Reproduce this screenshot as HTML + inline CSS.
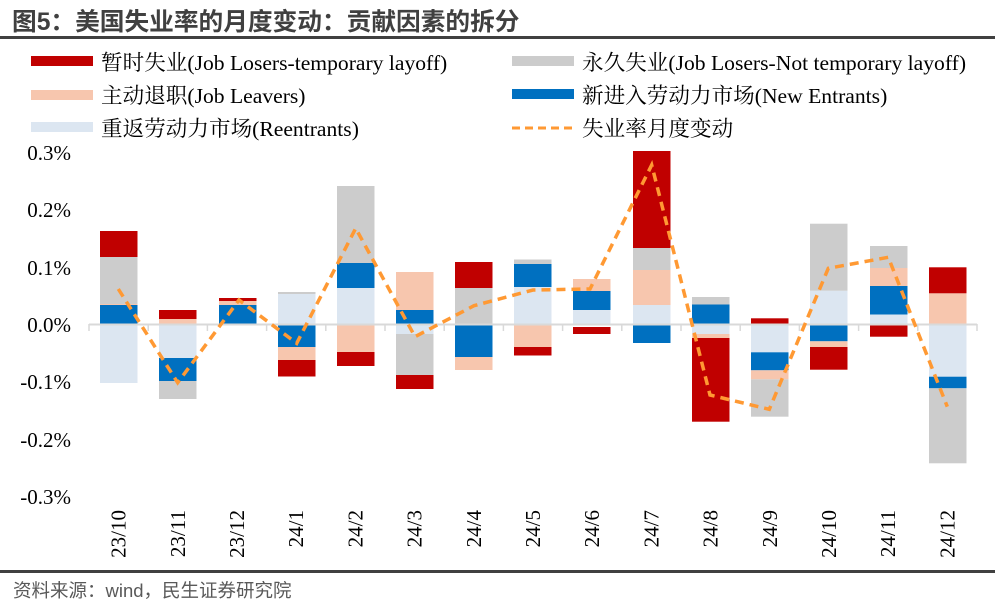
<!DOCTYPE html>
<html><head><meta charset="utf-8">
<style>
html,body{margin:0;padding:0;background:#fff;}
svg{display:block;}
.s{font-family:"Liberation Serif","Noto Serif CJK SC","Noto Sans CJK SC",serif;font-size:21px;fill:#000;}
.lg{font-size:21.6px;}
</style></head>
<body>
<svg id="c" width="995" height="613" xmlns="http://www.w3.org/2000/svg">
<rect width="995" height="613" fill="#fff"/>
<text x="12" y="30" font-family="Liberation Sans,'Noto Sans CJK SC',sans-serif" font-weight="bold" font-size="24.7" fill="#404040">图5：美国失业率的月度变动：贡献因素的拆分</text>
<rect x="0" y="36" width="995" height="3" fill="#404040"/>
<rect x="0" y="570" width="995" height="3" fill="#404040"/>
<text x="13" y="597" font-family="Liberation Sans,'Noto Sans CJK SC',sans-serif" font-size="18.5" fill="#595959">资料来源：wind，民生证券研究院</text>
<!-- legend -->
<rect x="31" y="56" width="62" height="10" fill="#C00000"/>
<text class="s lg" x="101" y="70">暂时失业(Job Losers-temporary layoff)</text>
<rect x="31" y="90" width="62" height="10" fill="#F7C6AE"/>
<text class="s lg" x="101" y="103">主动退职(Job Leavers)</text>
<rect x="31" y="122" width="62" height="10" fill="#DCE6F1"/>
<text class="s lg" x="101" y="136">重返劳动力市场(Reentrants)</text>
<rect x="512" y="56" width="62" height="10" fill="#CCCCCC"/>
<text class="s lg" x="582" y="70">永久失业(Job Losers-Not temporary layoff)</text>
<rect x="512" y="89" width="62" height="10" fill="#0070C0"/>
<text class="s lg" x="582" y="103">新进入劳动力市场(New Entrants)</text>
<line x1="512" y1="128" x2="574" y2="128" stroke="#FF9933" stroke-width="3" stroke-dasharray="8,5"/>
<text class="s lg" x="582" y="136">失业率月度变动</text>
<!-- y labels -->
<g class="s" text-anchor="end">
<text x="71" y="160">0.3%</text><text x="71" y="217">0.2%</text><text x="71" y="275">0.1%</text>
<text x="71" y="332">0.0%</text><text x="71" y="389">-0.1%</text><text x="71" y="447">-0.2%</text><text x="71" y="504">-0.3%</text>
</g>
<g id="bars"></g>
<g id="axis"></g>
<polyline fill="none" stroke="#FF9933" stroke-width="3.5" stroke-dasharray="9,6" points="118.3,289 177.7,382.7 239,300 296.7,343.3 355.7,228.3 415,336.7 474,305.7 533,290 590,289 651.7,165 710,395 769.3,409.3 828.3,268.3 888.3,257.3 947.3,406.7"/>
<g id="xl"></g>
</svg>
<script>
var R="#C00000",G="#CCCCCC",P="#F7C6AE",B="#0070C0",L="#DCE6F1";
var bars=[
[100,[[B,324,305],[P,305,304],[G,304,257],[R,257,231],[L,324,383]]],
[159,[[P,324,319],[R,319,310],[L,324,358],[B,358,381],[G,381,399]]],
[219,[[B,324,305],[P,305,301],[R,301,298]]],
[278,[[L,324,294],[G,294,292],[B,325,347],[P,347,360],[R,360,376.5]]],
[337,[[L,324,288],[B,288,263],[G,263,186],[P,325,352],[R,352,366]]],
[396,[[B,324,310],[P,310,272],[L,324,334],[G,334,375],[R,375,389]]],
[455,[[G,324,321],[G,321,288],[R,288,262],[B,325,357],[P,357,370]]],
[514,[[L,324,287],[B,287,264],[G,264,259.5],[P,325,347],[R,347,355.5]]],
[573,[[L,324,310],[B,310,291],[P,291,279],[R,327,334]]],
[633,[[L,324,305],[P,305,270],[G,270,248],[R,248,151],[B,325,343]]],
[692,[[B,324,304.5],[G,304.5,297],[L,324,334],[P,334,338],[R,338,421.7]]],
[751,[[R,324,318.3],[L,324,352.3],[B,352.3,370.3],[P,370.3,379.3],[G,379.3,416.7]]],
[810,[[L,324,290.7],[G,290.7,223.7],[B,325,341.3],[P,341.3,347],[R,347,369.7]]],
[870,[[L,324,314.5],[B,314.5,286],[P,286,268],[G,268,246],[R,325,336.7]]],
[929,[[P,324,293.3],[R,293.3,267.3],[L,324,376.7],[B,376.7,388.3],[G,388.3,463.3]]]
];
var ns="http://www.w3.org/2000/svg",g=document.getElementById("bars");
bars.forEach(function(b){b[1].forEach(function(s){var r=document.createElementNS(ns,"rect");
var y=Math.min(s[1],s[2]),h=Math.abs(s[2]-s[1]);r.setAttribute("x",b[0]);r.setAttribute("width",37.5);
r.setAttribute("y",y);r.setAttribute("height",h);r.setAttribute("fill",s[0]);g.appendChild(r);});});
var a=document.getElementById("axis"),h='<line x1="89" y1="324.5" x2="977" y2="324.5" stroke="#D9D9D9" stroke-width="2"/>';
for(var i=0;i<=15;i++){var x=89+i*59.2;h+='<line x1="'+x+'" y1="324" x2="'+x+'" y2="331" stroke="#D9D9D9" stroke-width="1.5"/>';}
a.innerHTML=h;
var labs=["23/10","23/11","23/12","24/1","24/2","24/3","24/4","24/5","24/6","24/7","24/8","24/9","24/10","24/11","24/12"],t="";
labs.forEach(function(l,i){var x=118.6+i*59.2+7;t+='<text class="s" text-anchor="end" transform="translate('+x+',510) rotate(-90)">'+l+'</text>';});
document.getElementById("xl").innerHTML=t;
</script>
</body></html>
